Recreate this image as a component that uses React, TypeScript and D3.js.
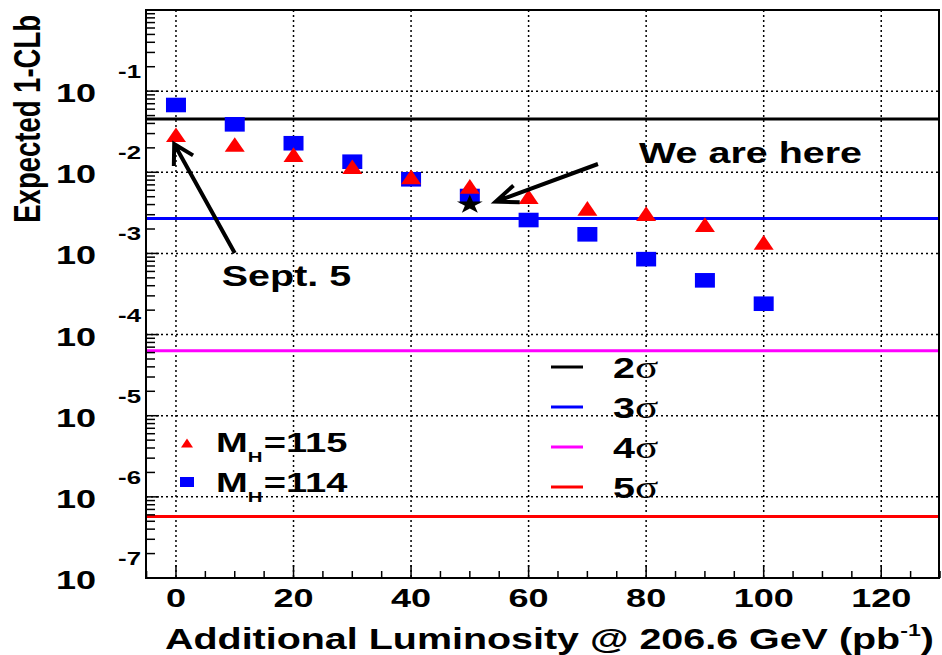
import React from "react";
import * as d3 from "d3";

// ---- data ----
const lumi = [0, 10, 20, 30, 40, 50, 60, 70, 80, 90, 100];
const clbMh115 = [0.029, 0.022, 0.0165, 0.0117, 0.0088, 0.0067, 0.005, 0.0036, 0.0031, 0.00226, 0.00137];
const clbMh114 = [0.0675, 0.039, 0.0228, 0.0135, 0.0082, 0.0051, 0.00258, 0.00172, 0.00085, 0.000466, 0.00024];
const sigmaLabels = ["2", "3", "4", "5"];
const sigmaValues = [0.0455, 0.0027, 6.33e-5, 5.73e-7];
const sigmaColors = ["#000000", "#0000ff", "#ff00ff", "#ff0000"];
const xTicks = [0, 20, 40, 60, 80, 100, 120];
const yExponents = [-1, -2, -3, -4, -5, -6, -7];
const starPoint = { x: 50, y: 0.004 };
const arrowSept = { from: [10, 0.00101], to: [-0.3, 0.0223], label: "Sept. 5", labelAt: [7.8, 3.97e-4] };
const arrowHere = { from: [71.8, 0.01265], to: [54.4, 0.00436], label: "We are here", labelAt: [78.8, 0.013] };

const W = 942, H = 655;
const SX = 1.36;
const FONT = "'Liberation Sans', Arial, Helvetica, sans-serif";

const x = d3.scaleLinear().domain([-5.1, 130]).range([146, 940]);
const y = d3.scaleLog().domain([1e-7, 1]).range([578, 10]);

function T({ x: px, y: py, anchor = "start", size = 27, children, weight = "bold" }: any) {
  return (
    <text transform={`translate(${px},${py}) scale(${SX},1)`} textAnchor={anchor} fontSize={size}
      fontWeight={weight} fontFamily={FONT} fill="#000">{children}</text>
  );
}

function arrowPath(from: number[], to: number[], len: number, angDeg: number) {
  const x0 = x(from[0]), y0 = y(from[1]), x1 = x(to[0]), y1 = y(to[1]);
  const a = Math.atan2(y0 - y1, x0 - x1);
  const r = (angDeg * Math.PI) / 180;
  const w1 = [x1 + len * Math.cos(a + r), y1 + len * Math.sin(a + r)];
  const w2 = [x1 + len * Math.cos(a - r), y1 + len * Math.sin(a - r)];
  return `M${x0},${y0}L${x1},${y1}M${w1[0]},${w1[1]}L${x1},${y1}L${w2[0]},${w2[1]}`;
}

function triPath(w: number, h: number) {
  return `M0,${-h / 2}L${w / 2},${h / 2}L${-w / 2},${h / 2}Z`;
}

export default function App() {
  const [xmin, xmax] = x.range();
  const [ybot, ytop] = y.range();
  const minorY: number[] = [];
  for (let e = -7; e < 0; e++) for (let k = 2; k <= 9; k++) minorY.push(k * Math.pow(10, e));
  const majorY = d3.range(-7, 1).map((e) => Math.pow(10, e));
  const minorX = d3.range(-5, 131, 5).filter((v) => v % 20 !== 0 && v > -5.1);
  const star = d3.symbol(d3.symbolStar, 112)()!;
  const dash = "2,3";

  return (
    <svg width={W} height={H} style={{ position: "absolute", left: 0, top: 0, background: "#fff" }}>
      <rect x={0} y={0} width={W} height={H} fill="#fff" />
      {/* grid */}
      {xTicks.map((t) => (
        <line key={"gx" + t} x1={x(t)} x2={x(t)} y1={ytop} y2={ybot} stroke="#000" strokeWidth={1.5} strokeDasharray={dash} />
      ))}
      {majorY.slice(1, -1).map((v, i) => (
        <line key={"gy" + i} x1={xmin} x2={xmax} y1={y(v)} y2={y(v)} stroke="#000" strokeWidth={1.5} strokeDasharray={dash} />
      ))}
      {/* sigma lines */}
      {sigmaValues.map((v, i) => (
        <line key={"s" + i} x1={xmin} x2={xmax} y1={y(v)} y2={y(v)} stroke={sigmaColors[i]} strokeWidth={3} />
      ))}
      {/* ticks */}
      {majorY.map((v, i) => (
        <line key={"my" + i} x1={xmin} x2={xmin + 13} y1={y(v)} y2={y(v)} stroke="#000" strokeWidth={1.5} />
      ))}
      {minorY.map((v, i) => (
        <line key={"ny" + i} x1={xmin} x2={xmin + 9} y1={y(v)} y2={y(v)} stroke="#000" strokeWidth={1.5} />
      ))}
      {xTicks.map((t) => (
        <line key={"mx" + t} x1={x(t)} x2={x(t)} y1={ybot} y2={ybot - 13} stroke="#000" strokeWidth={1.5} />
      ))}
      {minorX.map((t) => (
        <line key={"nx" + t} x1={x(t)} x2={x(t)} y1={ybot} y2={ybot - 7} stroke="#000" strokeWidth={1.5} />
      ))}
      {/* markers: squares, triangles, star */}
      {lumi.map((l, i) => (
        <rect key={"q" + i} x={x(l) - 10} y={y(clbMh114[i]) - 7.3} width={20} height={14.6} fill="#0000ff" />
      ))}
      {lumi.map((l, i) => (
        <path key={"t" + i} d={triPath(20, 14.7)} transform={`translate(${x(l)},${y(clbMh115[i])})`} fill="#ff0000" />
      ))}
      <path d={star} transform={`translate(${x(starPoint.x)},${y(starPoint.y)}) scale(${SX},1)`} fill="#000" />
      {/* arrows */}
      <path d={arrowPath(arrowSept.from, arrowSept.to, 22, 30)} stroke="#000" strokeWidth={4} fill="none" strokeLinejoin="miter" />
      <path d={arrowPath(arrowHere.from, arrowHere.to, 24, 22)} stroke="#000" strokeWidth={4} fill="none" strokeLinejoin="miter" />
      <T x={x(arrowSept.labelAt[0])} y={y(arrowSept.labelAt[1])} size={29}>{arrowSept.label}</T>
      <T x={x(arrowHere.labelAt[0])} y={y(arrowHere.labelAt[1])} size={29}>{arrowHere.label}</T>
      {/* frame */}
      <rect x={xmin} y={ytop} width={xmax - xmin - 1} height={ybot - ytop} fill="none" stroke="#000" strokeWidth={2} />
      {/* y tick labels */}
      {yExponents.map((e) => (
        <g key={"yl" + e}>
          <T x={96} y={y(Math.pow(10, e)) + 11} anchor="end" size={26.5}>10</T>
          <T x={141} y={y(Math.pow(10, e)) - 13} anchor="end" size={19}>{String(e)}</T>
        </g>
      ))}
      {/* x tick labels */}
      {xTicks.map((t) => (
        <T key={"xl" + t} x={x(t)} y={607} anchor="middle" size={26.5}>{String(t)}</T>
      ))}
      {/* axis titles */}
      <text transform={`translate(40,15) scale(${SX},1) rotate(-90)`} textAnchor="end" fontSize={27.5}
        fontWeight="bold" fontFamily={FONT}>Expected 1-CLb</text>
      <T x={165} y={649} size={29}>
        Additional Luminosity @ 206.6 GeV (pb<tspan fontSize={17} dy={-13}>-1</tspan><tspan dy={13}>)</tspan>
      </T>
      {/* left legend */}
      <path d={triPath(12, 9)} transform="translate(187,443)" fill="#ff0000" />
      <rect x={180} y={477} width={14} height={10} fill="#0000ff" />
      {["115", "114"].map((m, i) => (
        <T key={"lg" + m} x={216} y={452 + i * 40} size={28}>
          M<tspan fontSize={15} dy={10}>H</tspan><tspan dy={-10} dx={1}>={m}</tspan>
        </T>
      ))}
      {/* right legend */}
      {sigmaLabels.map((s, i) => {
        const ly = 367 + i * 40;
        return (
          <g key={"sl" + s}>
            <line x1={551} x2={583} y1={ly} y2={ly} stroke={sigmaColors[i]} strokeWidth={3} />
            <T x={613} y={ly + 11} size={29}>
              {s}<tspan fontFamily="'Liberation Serif', 'Times New Roman', serif" fontWeight="normal" fontSize={32}>σ</tspan>
            </T>
          </g>
        );
      })}
    </svg>
  );
}
